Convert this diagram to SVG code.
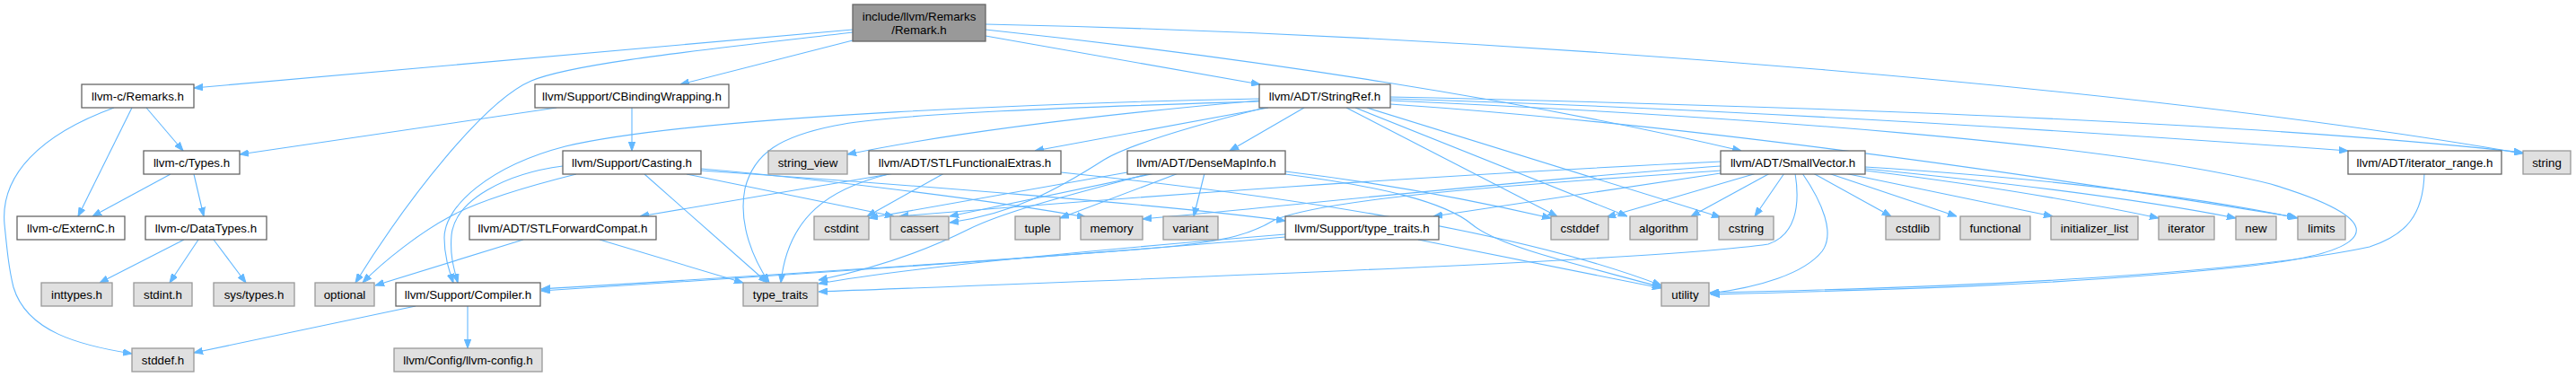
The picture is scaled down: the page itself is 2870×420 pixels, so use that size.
<svg xmlns="http://www.w3.org/2000/svg" width="2870" height="420" viewBox="0 0 2870 420">
<defs>
<marker id="ah" markerWidth="10" markerHeight="8" refX="10" refY="4" orient="auto" markerUnits="userSpaceOnUse"><path d="M0,0.3L10,4L0,7.7z" fill="#63b8ff" stroke="#63b8ff" stroke-width="1"/></marker>
<style>
.e{fill:none;stroke:#63b8ff;stroke-width:1.1;marker-end:url(#ah)}
.n rect{fill:#ffffff;stroke:#666666;stroke-width:1.3}
.l rect{fill:#e0e0e0;stroke:#999999;stroke-width:1.3}
.r rect{fill:#999999;stroke:#666666;stroke-width:1.3}
text{font-family:"Liberation Sans",Arial,Helvetica,sans-serif;font-size:13.33px;fill:#000000;text-anchor:middle}
</style>
</defs>
<rect x="0" y="0" width="2870" height="420" fill="#ffffff"/>
<g id="edges">
<path class="e" d="M950,33 L216,98"/>
<path class="e" d="M950,36 C790,55 640,70 592,90 C540,112 455,220 396,315"/>
<path class="e" d="M950,45 L758,94"/>
<path class="e" d="M1098,40 L1404,94"/>
<path class="e" d="M1098,33 C1400,65 1700,112 1940,168"/>
<path class="e" d="M1098,27 C1700,40 2400,100 2811,171"/>
<path class="e" d="M147,120 L87,241"/>
<path class="e" d="M163,120 L204,168"/>
<path class="e" d="M127,120 C45,150 0,195 5,250 C8,280 10,300 15,320 C30,370 90,385 147,394"/>
<path class="e" d="M190,194 L103,241"/>
<path class="e" d="M216,194 L227,241"/>
<path class="e" d="M205,267 L111,315"/>
<path class="e" d="M221,267 L189,315"/>
<path class="e" d="M238,267 L274,315"/>
<path class="e" d="M463,341 L216,393"/>
<path class="e" d="M521,341 L521,388"/>
<path class="e" d="M620,120 L267,172"/>
<path class="e" d="M704,120 L704,168"/>
<path class="e" d="M627,185 C565,193 507,222 503,262 C501,285 506,300 510,315"/>
<path class="e" d="M642,194 C590,207 530,225 500,242 C470,258 428,290 404,315"/>
<path class="e" d="M718,194 L855,315"/>
<path class="e" d="M765,194 L996,241"/>
<path class="e" d="M781,188 C900,198 1100,222 1210,242"/>
<path class="e" d="M781,190 C1000,205 1300,228 1432,246"/>
<path class="e" d="M583,267 L418,318"/>
<path class="e" d="M668,267 L828,315"/>
<path class="e" d="M1403,110 C1200,114 780,128 630,163 C545,185 495,230 495,265 C495,285 500,300 505,315"/>
<path class="e" d="M1403,113 C1250,118 1000,125 930,140 C870,152 840,170 830,210 C822,250 840,290 857,315"/>
<path class="e" d="M1403,112 C1200,130 1050,150 944,172"/>
<path class="e" d="M1413,120 L1153,168"/>
<path class="e" d="M1409,120 C1330,140 1260,160 1230,178 C1180,210 1130,238 1058,248"/>
<path class="e" d="M1453,120 L1370,168"/>
<path class="e" d="M1500,120 L1735,241"/>
<path class="e" d="M1510,120 L1813,241"/>
<path class="e" d="M1523,120 L1917,242"/>
<path class="e" d="M1549,116 C1900,140 2300,200 2558,242"/>
<path class="e" d="M1549,112 C1950,130 2350,160 2530,205 C2680,250 2640,282 2500,297 C2300,318 2100,323 1906,328"/>
<path class="e" d="M1549,110 C1900,120 2300,145 2616,168"/>
<path class="e" d="M1549,108 C2000,118 2500,135 2811,170"/>
<path class="e" d="M997,193 L713,241"/>
<path class="e" d="M1052,193 L966,241"/>
<path class="e" d="M990,194 C925,210 878,240 870,315"/>
<path class="e" d="M1182,192 C1450,220 1700,260 1851,318"/>
<path class="e" d="M1256,192 L968,243"/>
<path class="e" d="M1287,193 L1058,241"/>
<path class="e" d="M1282,193 C1200,215 1120,235 1080,255 C1030,280 970,300 912,312"/>
<path class="e" d="M1313,193 L1181,243"/>
<path class="e" d="M1342,193 L1330,241"/>
<path class="e" d="M1432,191 C1550,205 1650,225 1728,243"/>
<path class="e" d="M1432,194 C1540,208 1610,225 1640,250 C1670,275 1760,295 1851,320"/>
<path class="e" d="M1432,264 C1200,285 900,305 603,324"/>
<path class="e" d="M1432,261 C1200,280 1000,300 912,316"/>
<path class="e" d="M1580,267 L1851,321"/>
<path class="e" d="M2701,193 C2700,240 2680,262 2640,275 C2500,305 2200,320 1905,326"/>
<path class="e" d="M1917,190 C1700,205 1480,220 1420,245 C1395,260 1370,268 1300,275 C1100,292 800,310 603,322"/>
<path class="e" d="M2000,193 C2006,230 2000,262 1970,272 C1850,290 1300,310 912,325"/>
<path class="e" d="M2008,193 C2030,225 2045,260 2030,280 C2010,305 1960,320 1905,327"/>
<path class="e" d="M1917,180 C1600,195 1250,220 1002,241"/>
<path class="e" d="M1917,185 C1700,200 1450,228 1273,244"/>
<path class="e" d="M1917,193 L1597,241"/>
<path class="e" d="M1957,193 L1790,242"/>
<path class="e" d="M1972,193 L1884,241"/>
<path class="e" d="M1988,193 L1955,241"/>
<path class="e" d="M2020,193 L2107,241"/>
<path class="e" d="M2037,193 L2180,241"/>
<path class="e" d="M2055,193 L2287,241"/>
<path class="e" d="M2078,190 C2200,205 2320,225 2405,243"/>
<path class="e" d="M2078,188 C2250,205 2400,225 2491,243"/>
<path class="e" d="M2078,186 C2300,200 2450,220 2560,243"/>
</g>
<g id="node-root" class="r"><rect x="950" y="5" width="148" height="41"/><text x="1024" y="23">include/llvm/Remarks</text><text x="1024" y="38">/Remark.h</text></g>
<g id="node-c-remarks" class="n"><rect x="91" y="94" width="125" height="26"/><text x="153.5" y="112">llvm-c/Remarks.h</text></g>
<g id="node-cbinding" class="n"><rect x="596" y="94" width="216" height="26"/><text x="704" y="112">llvm/Support/CBindingWrapping.h</text></g>
<g id="node-stringref" class="n"><rect x="1403" y="94" width="146" height="26"/><text x="1476" y="112">llvm/ADT/StringRef.h</text></g>
<g id="node-c-types" class="n"><rect x="160" y="168" width="107" height="26"/><text x="213.5" y="186">llvm-c/Types.h</text></g>
<g id="node-casting" class="n"><rect x="627" y="168" width="154" height="26"/><text x="704" y="186">llvm/Support/Casting.h</text></g>
<g id="node-string-view" class="l"><rect x="856" y="168" width="88" height="26"/><text x="900" y="186">string_view</text></g>
<g id="node-stlfunc" class="n"><rect x="968" y="168" width="214" height="26"/><text x="1075" y="186">llvm/ADT/STLFunctionalExtras.h</text></g>
<g id="node-densemap" class="n"><rect x="1256" y="168" width="176" height="26"/><text x="1344" y="186">llvm/ADT/DenseMapInfo.h</text></g>
<g id="node-smallvector" class="n"><rect x="1917" y="168" width="161" height="26"/><text x="1997.5" y="186">llvm/ADT/SmallVector.h</text></g>
<g id="node-iterrange" class="n"><rect x="2616" y="168" width="171" height="26"/><text x="2701.5" y="186">llvm/ADT/iterator_range.h</text></g>
<g id="node-string" class="l"><rect x="2811" y="168" width="53" height="26"/><text x="2837.5" y="186">string</text></g>
<g id="node-c-externc" class="n"><rect x="19" y="241" width="120" height="26"/><text x="79" y="259">llvm-c/ExternC.h</text></g>
<g id="node-c-datatypes" class="n"><rect x="162" y="241" width="135" height="26"/><text x="229.5" y="259">llvm-c/DataTypes.h</text></g>
<g id="node-stlfwd" class="n"><rect x="523" y="241" width="208" height="26"/><text x="627" y="259">llvm/ADT/STLForwardCompat.h</text></g>
<g id="node-cstdint" class="l"><rect x="907" y="241" width="61" height="26"/><text x="937.5" y="259">cstdint</text></g>
<g id="node-cassert" class="l"><rect x="992" y="241" width="65" height="26"/><text x="1024.5" y="259">cassert</text></g>
<g id="node-tuple" class="l"><rect x="1131" y="241" width="50" height="26"/><text x="1156" y="259">tuple</text></g>
<g id="node-memory" class="l"><rect x="1204" y="241" width="69" height="26"/><text x="1238.5" y="259">memory</text></g>
<g id="node-variant" class="l"><rect x="1296" y="241" width="61" height="26"/><text x="1326.5" y="259">variant</text></g>
<g id="node-typetraits-h" class="n"><rect x="1432" y="241" width="171" height="26"/><text x="1517.5" y="259">llvm/Support/type_traits.h</text></g>
<g id="node-cstddef" class="l"><rect x="1728" y="241" width="64" height="26"/><text x="1760" y="259">cstddef</text></g>
<g id="node-algorithm" class="l"><rect x="1816" y="241" width="75" height="26"/><text x="1853.5" y="259">algorithm</text></g>
<g id="node-cstring" class="l"><rect x="1915" y="241" width="61" height="26"/><text x="1945.5" y="259">cstring</text></g>
<g id="node-cstdlib" class="l"><rect x="2101" y="241" width="60" height="26"/><text x="2131" y="259">cstdlib</text></g>
<g id="node-functional" class="l"><rect x="2184" y="241" width="78" height="26"/><text x="2223" y="259">functional</text></g>
<g id="node-initlist" class="l"><rect x="2285" y="241" width="97" height="26"/><text x="2333.5" y="259">initializer_list</text></g>
<g id="node-iterator" class="l"><rect x="2405" y="241" width="62" height="26"/><text x="2436" y="259">iterator</text></g>
<g id="node-new" class="l"><rect x="2491" y="241" width="45" height="26"/><text x="2513.5" y="259">new</text></g>
<g id="node-limits" class="l"><rect x="2560" y="241" width="53" height="26"/><text x="2586.5" y="259">limits</text></g>
<g id="node-inttypes" class="l"><rect x="46" y="315" width="79" height="26"/><text x="85.5" y="333">inttypes.h</text></g>
<g id="node-stdint" class="l"><rect x="149" y="315" width="65" height="26"/><text x="181.5" y="333">stdint.h</text></g>
<g id="node-systypes" class="l"><rect x="238" y="315" width="90" height="26"/><text x="283" y="333">sys/types.h</text></g>
<g id="node-optional" class="l"><rect x="351" y="315" width="66" height="26"/><text x="384" y="333">optional</text></g>
<g id="node-compiler" class="n"><rect x="441" y="315" width="161" height="26"/><text x="521.5" y="333">llvm/Support/Compiler.h</text></g>
<g id="node-type-traits" class="l"><rect x="828" y="315" width="83" height="26"/><text x="869.5" y="333">type_traits</text></g>
<g id="node-utility" class="l"><rect x="1851" y="315" width="53" height="26"/><text x="1877.5" y="333">utility</text></g>
<g id="node-stddef" class="l"><rect x="147" y="388" width="69" height="26"/><text x="181.5" y="406">stddef.h</text></g>
<g id="node-llvmconfig" class="l"><rect x="439" y="388" width="165" height="26"/><text x="521.5" y="406">llvm/Config/llvm-config.h</text></g>
</svg>
